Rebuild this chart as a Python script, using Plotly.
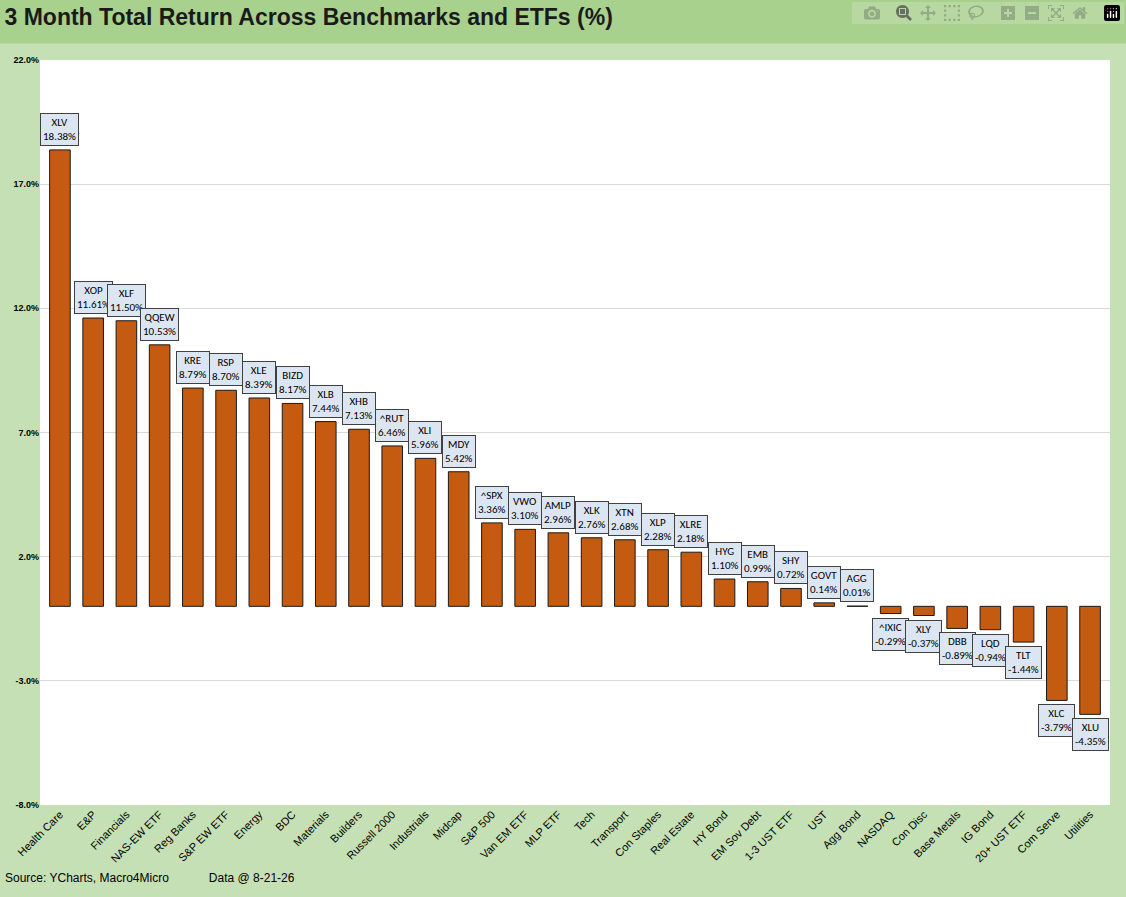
import plotly.graph_objects as go

categories = ["Health Care","E&P","Financials","NAS-EW ETF","Reg Banks","S&P EW ETF","Energy","BDC","Materials","Builders","Russell 2000","Industrials","Midcap","S&P 500","Van EM ETF","MLP ETF","Tech","Transport","Con Staples","Real Estate","HY Bond","EM Sov Debt","1-3 UST ETF","UST","Agg Bond","NASDAQ","Con Disc","Base Metals","IG Bond","20+ UST ETF","Com Serve","Utilities"]
tickers = ["XLV","XOP","XLF","QQEW","KRE","RSP","XLE","BIZD","XLB","XHB","^RUT","XLI","MDY","^SPX","VWO","AMLP","XLK","XTN","XLP","XLRE","HYG","EMB","SHY","GOVT","AGG","^IXIC","XLY","DBB","LQD","TLT","XLC","XLU"]
values = [18.38,11.61,11.50,10.53,8.79,8.70,8.39,8.17,7.44,7.13,6.46,5.96,5.42,3.36,3.10,2.96,2.76,2.68,2.28,2.18,1.10,0.99,0.72,0.14,0.01,-0.29,-0.37,-0.89,-0.94,-1.44,-3.79,-4.35]
y_ticks = [-8,-3,2,7,12,17,22]

fig = go.Figure(go.Bar(x=categories, y=values, marker=dict(color="#c55a11", line=dict(color="#1a1a1a", width=1)), width=0.62))

for c, t, v in zip(categories, tickers, values):
    fig.add_annotation(x=c, y=v, text=f"{t}<br>{v:.2f}%", showarrow=False,
                       yanchor="bottom" if v >= 0 else "top", yshift=4 if v >= 0 else -4,
                       font=dict(family="Calibri, Carlito, Liberation Sans, sans-serif", size=11, color="#000"),
                       bgcolor="#dce6f2", bordercolor="#404040", borderwidth=1, borderpad=2)

fig.add_shape(type="rect", xref="paper", yref="paper", x0=-0.05, x1=1.02, y0=1.022, y1=1.09,
              fillcolor="#a9d18e", line=dict(width=0), layer="below")

fig.update_layout(
    width=1126, height=897, showlegend=False,
    paper_bgcolor="#c5e0b4", plot_bgcolor="white",
    margin=dict(l=40, r=16, t=60, b=92),
    font=dict(family="Liberation Sans, Arial, sans-serif", color="#000"),
    title=dict(text="<b>3 Month Total Return Across Benchmarks and ETFs (%)</b>", x=0.004, xanchor="left",
               y=0.99, yanchor="top", font=dict(size=23, color="#1a1a1a", family="Liberation Sans, Arial, sans-serif")),
    xaxis=dict(tickangle=-45, tickfont=dict(size=11), showgrid=False, range=[-0.6, 31.6]),
    yaxis=dict(range=[-8, 22], tickvals=y_ticks, ticktext=[f"<b>{v:.1f}%</b>" for v in y_ticks],
               tickfont=dict(size=9), gridcolor="#d9d9d9", zeroline=False),
    bargap=0.4,
)
fig.add_annotation(xref="paper", yref="paper", x=-0.035, y=-0.11, xanchor="left", showarrow=False,
                   text="Source: YCharts, Macro4Micro            Data @ 8-21-26", font=dict(size=12))
fig.write_html("out.html", post_script="document.body.style.margin='0';document.body.style.padding='0';")
